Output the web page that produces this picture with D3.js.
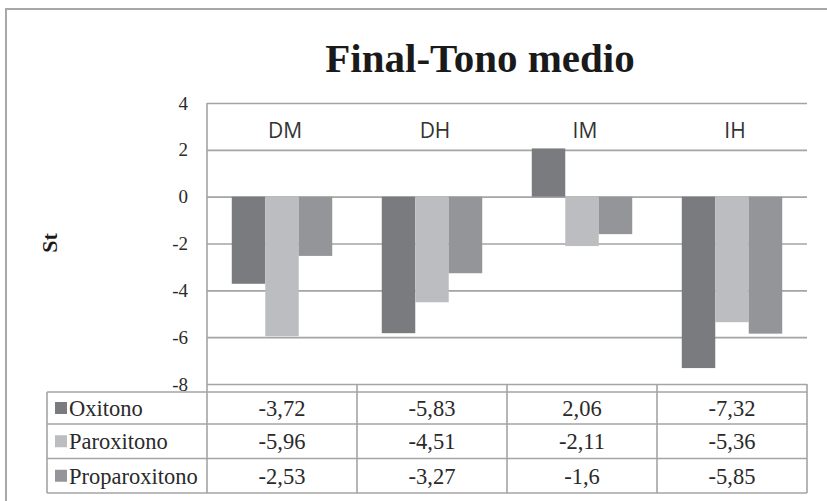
<!DOCTYPE html>
<html>
<head>
<meta charset="utf-8">
<script src="https://cdn.jsdelivr.net/npm/d3@7/dist/d3.min.js"></script>
<style>
    body { margin: 0; background: #fff; }
    svg { display: block; }
</style>
</head>
<body>
<svg id="mainChart"></svg>
<script>
'use strict';
// data
var categories = ['DM', 'DH', 'IM', 'IH'];
var seriesNames = ['Oxitono', 'Paroxitono', 'Proparoxitono'];
var oxitono = [-3.72, -5.83, 2.06, -7.32];
var paroxitono = [-5.96, -4.51, -2.11, -5.36];
var proparoxitono = [-2.53, -3.27, -1.6, -5.85];
var tableLabels = [
    ['-3,72', '-5,83', '2,06', '-7,32'],
    ['-5,96', '-4,51', '-2,11', '-5,36'],
    ['-2,53', '-3,27', '-1,6', '-5,85']
];
var yTicks = [4, 2, 0, -2, -4, -6, -8];

var chart = (function() {
    var exports = {},
        _svg = d3.select('#mainChart'),
        _width = 827,
        _height = 501,
        _plot = {left: 207, right: 807, top: 103, bottom: 384},
        _colors = ['#7a7b7f', '#bcbdc0', '#949599'],
        _grid = '#a4a4a4',
        _xScale,
        _sScale,
        _yScale
    ;
    exports.draw = function() {
        var values = [oxitono, paroxitono, proparoxitono];
        _svg.attr('width', _width).attr('height', _height);

        // outer frame (right and bottom sides fall outside the picture)
        _svg.append('rect')
            .attr('x', 6).attr('y', 9)
            .attr('width', 840).attr('height', 520)
            .attr('fill', 'none')
            .attr('stroke', '#a8a8a8')
            .attr('stroke-width', 2)
        ;

        _svg.append('text')
            .attr('x', 480).attr('y', 72)
            .attr('text-anchor', 'middle')
            .style('font-family', '"Liberation Serif", serif')
            .style('font-weight', 'bold')
            .style('font-size', '41px')
            .attr('fill', '#1a1a1a')
            .text('Final-Tono medio')
        ;

        _xScale = d3.scaleBand()
            .domain(categories)
            .range([_plot.left, _plot.right])
        ;
        _sScale = d3.scaleBand()
            .domain(seriesNames)
            .range([0, _xScale.bandwidth()])
            .paddingOuter(0.74)
        ;
        _yScale = d3.scaleLinear()
            .domain([-8, 4])
            .range([_plot.bottom, _plot.top])
        ;

        // gridlines + tick labels
        var yAxis = d3.axisLeft(_yScale)
            .tickValues(yTicks)
            .tickFormat(d3.format('d'))
            .tickSizeInner(-(_plot.right - _plot.left))
            .tickSizeOuter(0)
            .tickPadding(19)
        ;
        var gy = _svg.append('g')
            .attr('class', 'yAxis')
            .attr('transform', 'translate(' + _plot.left + ',0)')
            .call(yAxis)
        ;
        gy.select('.domain').remove();
        gy.selectAll('.tick line')
            .attr('stroke', _grid)
            .attr('stroke-width', 1.6)
        ;
        gy.selectAll('.tick text')
            .style('font-family', '"Liberation Serif", serif')
            .style('font-size', '19px')
            .attr('fill', '#2a2a2a')
            .text(function(d) { return d < 0 ? '-' + Math.abs(d) : d; })
        ;

        _svg.append('text')
            .attr('transform', 'translate(57,243) rotate(-90)')
            .attr('text-anchor', 'middle')
            .style('font-family', '"Liberation Serif", serif')
            .style('font-weight', 'bold')
            .style('font-size', '22px')
            .attr('fill', '#1a1a1a')
            .text('St')
        ;

        // bars
        var groups = _svg.append('g').selectAll('g')
            .data(seriesNames)
            .join('g')
            .attr('fill', function(d, i) { return _colors[i]; })
        ;
        groups.selectAll('rect')
            .data(function(d, i) { return values[i].map(function(v, j) { return {s: d, c: categories[j], v: v}; }); })
            .join('rect')
            .attr('x', function(d) { return _xScale(d.c) + _sScale(d.s); })
            .attr('width', _sScale.bandwidth())
            .attr('y', function(d) { return _yScale(Math.max(0, d.v)); })
            .attr('height', function(d) { return Math.abs(_yScale(d.v) - _yScale(0)); })
        ;

        // category labels sit at the top of the plot
        _svg.append('g').selectAll('text')
            .data(categories)
            .join('text')
            .attr('x', function(d) { return _xScale(d) + _xScale.bandwidth() / 2 + 3; })
            .attr('y', 138)
            .attr('text-anchor', 'middle')
            .style('font-family', '"Open Sans", sans-serif')
            .style('font-size', '21px')
            .attr('fill', '#333')
            .text(function(d) { return d; })
        ;

        // left axis line runs down into the data table
        _svg.append('line')
            .attr('x1', _plot.left).attr('x2', _plot.left)
            .attr('y1', _plot.top).attr('y2', 493)
            .attr('stroke', _grid).attr('stroke-width', 1.6)
        ;
        this.drawTable();
    };
    exports.drawTable = function() {
        var rowLines = [392, 424, 458.5, 493],
            tableLeft = 47,
            g = _svg.append('g').attr('class', 'table');
        function hline(y, x1) {
            g.append('line')
                .attr('x1', x1).attr('x2', _plot.right)
                .attr('y1', y).attr('y2', y)
                .attr('stroke', _grid).attr('stroke-width', 1.6);
        }
        rowLines.forEach(function(y) { hline(y, tableLeft); });
        function vline(x, y1) {
            g.append('line')
                .attr('x1', x).attr('x2', x)
                .attr('y1', y1).attr('y2', 493)
                .attr('stroke', _grid).attr('stroke-width', 1.6);
        }
        vline(tableLeft, 392);
        categories.forEach(function(c) { vline(_xScale(c) + _xScale.bandwidth(), _plot.bottom); });

        seriesNames.forEach(function(name, i) {
            var mid = (rowLines[i] + rowLines[i + 1]) / 2;
            g.append('rect')
                .attr('x', 55).attr('y', mid - 6)
                .attr('width', 12).attr('height', 12)
                .attr('fill', _colors[i]);
            g.append('text')
                .attr('x', 69).attr('y', mid + 8)
                .style('font-family', '"Liberation Serif", serif')
                .style('font-size', '22.5px')
                .attr('fill', '#2a2a2a')
                .text(name);
            g.selectAll('text.v' + i)
                .data(tableLabels[i])
                .join('text')
                .attr('class', 'v' + i)
                .attr('x', function(d, j) { return _xScale(categories[j]) + _xScale.bandwidth() / 2; })
                .attr('y', mid + 8)
                .attr('text-anchor', 'middle')
                .style('font-family', '"Liberation Serif", serif')
                .style('font-size', '22.5px')
                .attr('fill', '#2a2a2a')
                .text(function(d) { return d; });
        });
    };
    return exports;
})();
chart.draw();
</script>
</body>
</html>
